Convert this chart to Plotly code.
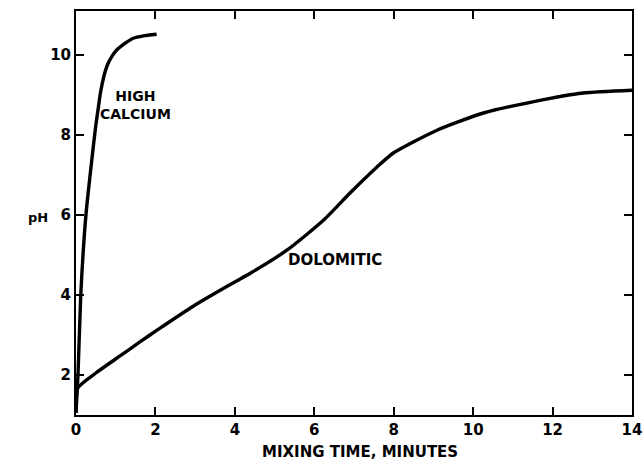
import plotly.graph_objects as go

# High calcium lime: pH vs mixing time (minutes)
hc_time = [0.0, 0.05, 0.12, 0.25, 0.45, 0.5, 0.56, 0.62, 0.71, 0.79, 0.9, 1.02, 1.23, 1.44, 1.7, 2.03]
hc_ph = [1.05, 2.0, 4.0, 6.0, 7.83, 8.25, 8.67, 9.08, 9.5, 9.75, 9.96, 10.12, 10.29, 10.42, 10.48, 10.52]

# Dolomitic lime
dol_time = [0.0, 0.05, 0.5, 1.1, 1.6, 2.04, 2.95, 3.95, 4.4, 5.31, 6.23, 6.9, 7.58, 7.99, 9.09, 10.26, 11.5, 12.77, 14.0]
dol_ph = [1.05, 1.68, 2.05, 2.47, 2.82, 3.12, 3.72, 4.3, 4.55, 5.12, 5.87, 6.55, 7.2, 7.55, 8.12, 8.55, 8.83, 9.05, 9.12]

x_ticks = [0, 2, 4, 6, 8, 10, 12, 14]
y_ticks = [2, 4, 6, 8, 10]

font_name = "DejaVu Sans"

fig = go.Figure()
fig.add_trace(go.Scatter(x=hc_time, y=hc_ph, mode="lines",
                         line=dict(color="black", width=3.4, shape="spline", smoothing=0.5),
                         showlegend=False))
fig.add_trace(go.Scatter(x=dol_time, y=dol_ph, mode="lines",
                         line=dict(color="black", width=3.4, shape="spline", smoothing=0.6),
                         showlegend=False))

fig.add_annotation(x=1.5, y=8.75, text="<b>HIGH<br>CALCIUM</b>", showarrow=False,
                   font=dict(family=font_name, size=14, color="black"))
fig.add_annotation(x=6.52, y=4.88, text="<b>DOLOMITIC</b>", showarrow=False,
                   font=dict(family=font_name, size=15, color="black"))
fig.add_annotation(xref="paper", yref="y", x=-0.068, y=5.95, text="<b>pH</b>",
                   showarrow=False, xanchor="center",
                   font=dict(family=font_name, size=13, color="black"))
fig.add_annotation(xref="paper", yref="paper", x=0.511, y=-0.0916, yanchor="middle",
                   text="<b>MIXING TIME, MINUTES</b>", showarrow=False,
                   font=dict(family=font_name, size=15, color="black"))

fig.update_layout(
    width=644, height=461,
    margin=dict(l=76, r=12, t=11, b=46),
    plot_bgcolor="white", paper_bgcolor="white",
    font=dict(family=font_name, size=15, color="black"),
    xaxis=dict(range=[0, 14], tickvals=x_ticks, ticktext=[f"<b>{v}</b>" for v in x_ticks],
               ticks="inside", ticklen=8, tickwidth=2, tickcolor="black",
               showline=True, linecolor="black", linewidth=2, mirror="ticks",
               showgrid=False, zeroline=False, automargin=False),
    yaxis=dict(range=[1, 11.1], tickvals=y_ticks, ticktext=[f"<b>{v}</b>" for v in y_ticks],
               ticks="inside", ticklen=8, tickwidth=2, tickcolor="black",
               showline=True, linecolor="black", linewidth=2, mirror="ticks",
               showgrid=False, zeroline=False, automargin=False),
)

# drop the default 8px page margin so the figure fills the window exactly
fig.write_html("out.html", config={"displayModeBar": False},
               post_script="document.body.style.margin='0';document.body.style.overflow='hidden';")
